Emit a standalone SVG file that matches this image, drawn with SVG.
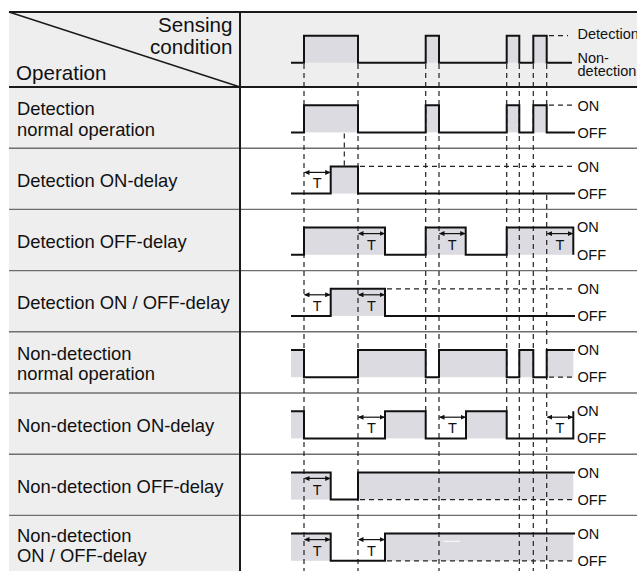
<svg xmlns="http://www.w3.org/2000/svg" width="637" height="571" viewBox="0 0 637 571">
<defs>
<marker id="ah" markerUnits="userSpaceOnUse" markerWidth="6" markerHeight="6" refX="5" refY="2.5" orient="auto-start-reverse">
<path d="M0,0 L5.5,2.5 L0,5 z" fill="#111"/>
</marker>
</defs>
<style>
.bg{fill:#eeeeee}
.pf{fill:#dcdbe2}
.sig{fill:none;stroke:#111;stroke-width:2;stroke-linejoin:miter}
.dh{fill:none;stroke:#222;stroke-width:1.2;stroke-dasharray:5 4}
.dv{fill:none;stroke:#222;stroke-width:1.2;stroke-dasharray:5 4}
.div{stroke:#6e6e6e;stroke-width:1.4}
.frame{stroke:#1a1a1a;stroke-width:2}
.arr{stroke:#111;stroke-width:1.2;marker-start:url(#ah);marker-end:url(#ah)}
.lbl{font-family:"Liberation Sans",Arial,sans-serif;font-size:18.4px;fill:#111}
.hdr{font-family:"Liberation Sans",Arial,sans-serif;font-size:20.6px;fill:#111}
.sm{font-family:"Liberation Sans",Arial,sans-serif;font-size:14.5px;fill:#111}
.t{font-family:"Liberation Sans",Arial,sans-serif;font-size:14.5px;fill:#111;text-anchor:middle}
</style>

<!-- table background -->
<g id="table">
<rect class="bg" x="9" y="12" width="231" height="559"/>
<rect class="bg" x="240" y="12" width="397" height="75"/>
<line class="div" x1="9" y1="148.2" x2="637" y2="148.2"/>
<line class="div" x1="9" y1="209.4" x2="637" y2="209.4"/>
<line class="div" x1="9" y1="270.6" x2="637" y2="270.6"/>
<line class="div" x1="9" y1="331.8" x2="637" y2="331.8"/>
<line class="div" x1="9" y1="393" x2="637" y2="393"/>
<line class="div" x1="9" y1="454.2" x2="637" y2="454.2"/>
<line class="div" x1="9" y1="515.4" x2="637" y2="515.4"/>
<line class="frame" x1="9" y1="12" x2="637" y2="12"/>
<line class="frame" x1="9" y1="87" x2="637" y2="87"/>
<line class="frame" x1="240" y1="12" x2="240" y2="571"/>
<line x1="9" y1="12" x2="240" y2="87" stroke="#1a1a1a" stroke-width="1.4"/>
</g>

<!-- fills under signals -->
<g id="fills">
<rect class="pf" x="304" y="35.7" width="54" height="27"/>
<rect class="pf" x="425.7" y="35.7" width="13.3" height="27"/>
<rect class="pf" x="506.7" y="35.7" width="12.6" height="27"/>
<rect class="pf" x="533.3" y="35.7" width="13.4" height="27"/>
<rect class="pf" x="304" y="105.2" width="54" height="27.2"/>
<rect class="pf" x="425.7" y="105.2" width="13.3" height="27.2"/>
<rect class="pf" x="506.7" y="105.2" width="12.6" height="27.2"/>
<rect class="pf" x="533.3" y="105.2" width="13.4" height="27.2"/>
<rect class="pf" x="330.7" y="166.4" width="27.3" height="27.2"/>
<rect class="pf" x="304" y="227.6" width="81" height="27.2"/>
<rect class="pf" x="425.7" y="227.6" width="40" height="27.2"/>
<rect class="pf" x="506.7" y="227.6" width="66.6" height="27.2"/>
<rect class="pf" x="330.7" y="288.8" width="54.3" height="27.2"/>
<rect class="pf" x="291" y="350" width="13" height="27.2"/>
<rect class="pf" x="358" y="350" width="67.7" height="27.2"/>
<rect class="pf" x="439" y="350" width="67.7" height="27.2"/>
<rect class="pf" x="519.3" y="350" width="14" height="27.2"/>
<rect class="pf" x="546.7" y="350" width="26.6" height="27.2"/>
<rect class="pf" x="291" y="411.2" width="13" height="27.2"/>
<rect class="pf" x="385" y="411.2" width="40.7" height="27.2"/>
<rect class="pf" x="466" y="411.2" width="40.7" height="27.2"/>
<rect class="pf" x="291" y="472.4" width="39.7" height="27.2"/>
<rect class="pf" x="358" y="472.4" width="215.3" height="27.2"/>
<rect class="pf" x="291" y="533.6" width="39.7" height="27.2"/>
<rect class="pf" x="385" y="533.6" width="188.3" height="27.2"/>
<line x1="443.3" y1="541.3" x2="460" y2="541.3" stroke="#ffffff" stroke-width="1"/>
</g>

<!-- connectors: dashed guides, delay arrows -->
<g id="connectors">
<line class="dv" x1="304" y1="64" x2="304" y2="571"/>
<line class="dv" x1="358" y1="64" x2="358" y2="571"/>
<line class="dv" x1="425.7" y1="64" x2="425.7" y2="411.2"/>
<line class="dv" x1="439" y1="64" x2="439" y2="571"/>
<line class="dv" x1="506.7" y1="64" x2="506.7" y2="411.2"/>
<line class="dv" x1="519.3" y1="64" x2="519.3" y2="571"/>
<line class="dv" x1="533.3" y1="64" x2="533.3" y2="571"/>
<line class="dv" x1="546.7" y1="64" x2="546.7" y2="105.2"/>
<line class="dv" x1="546.7" y1="195" x2="546.7" y2="571"/>
<line class="dv" x1="344.3" y1="133.5" x2="344.3" y2="166.4"/>
<line class="dh" x1="549" y1="35.7" x2="568" y2="35.7"/>
<line class="dh" x1="549" y1="105.2" x2="575" y2="105.2"/>
<line class="dh" x1="360" y1="166.4" x2="575" y2="166.4"/>
<line class="dh" x1="387" y1="288.8" x2="575" y2="288.8"/>
<line class="dh" x1="549" y1="377.2" x2="575" y2="377.2"/>
<line class="dh" x1="360" y1="499.6" x2="575" y2="499.6"/>
<line class="dh" x1="387" y1="560.8" x2="575" y2="560.8"/>

<line class="arr" x1="304.5" y1="172.4" x2="330.2" y2="172.4"/>
<line class="arr" x1="358.5" y1="233.6" x2="384.5" y2="233.6"/>
<line class="arr" x1="439.5" y1="233.6" x2="465.2" y2="233.6"/>
<line class="arr" x1="547.2" y1="233.6" x2="572.8" y2="233.6"/>
<line class="arr" x1="304.5" y1="294.8" x2="330.2" y2="294.8"/>
<line class="arr" x1="358.5" y1="294.8" x2="384.5" y2="294.8"/>
<line class="arr" x1="358.5" y1="417.2" x2="384.5" y2="417.2"/>
<line class="arr" x1="439.5" y1="417.2" x2="465.5" y2="417.2"/>
<line class="arr" x1="547.2" y1="417.2" x2="572.8" y2="417.2"/>
<line class="arr" x1="304.5" y1="478.4" x2="330.2" y2="478.4"/>
<line class="arr" x1="304.5" y1="539.6" x2="330.2" y2="539.6"/>
<line class="arr" x1="358.5" y1="539.6" x2="384.5" y2="539.6"/>
</g>

<!-- header node -->
<g id="header">
<text class="hdr" x="232.5" y="31.5" text-anchor="end">Sensing</text>
<text class="hdr" x="232.5" y="53.5" text-anchor="end">condition</text>
<text class="hdr" x="16" y="79.5">Operation</text>
<path class="sig" d="M291,62.7 H304 V35.7 H358 V62.7 H425.7 V35.7 H439 V62.7 H506.7 V35.7 H519.3 V62.7 H533.3 V35.7 H546.7 V62.7 H572"/>
<text class="sm" x="577.5" y="38.5">Detection</text>
<text class="sm" x="577.5" y="62.5">Non-</text>
<text class="sm" x="577.5" y="76">detection</text>
</g>

<g id="row1">
<text class="lbl" x="17" y="115">Detection</text>
<text class="lbl" x="17" y="135.5">normal operation</text>
<path class="sig" d="M291,132.4 H304 V105.2 H358 V132.4 H425.7 V105.2 H439 V132.4 H506.7 V105.2 H519.3 V132.4 H533.3 V105.2 H546.7 V132.4 H575"/>
<text class="sm" x="577.5" y="110.5">ON</text>
<text class="sm" x="577.5" y="137.5">OFF</text>
</g>

<g id="row2">
<text class="lbl" x="17" y="186.7">Detection ON-delay</text>
<path class="sig" d="M291,193.6 H330.7 V166.4 H358 V193.6 H575"/>
<text class="t" x="317.3" y="188.4">T</text>
<text class="sm" x="577.5" y="171.5">ON</text>
<text class="sm" x="577.5" y="198.7">OFF</text>
</g>

<g id="row3">
<text class="lbl" x="17" y="247.9">Detection OFF-delay</text>
<path class="sig" d="M291,254.8 H304 V227.6 H385 V254.8 H425.7 V227.6 H465.7 V254.8 H506.7 V227.6 H573.3 V254.8"/>
<text class="t" x="371.5" y="249.6">T</text>
<text class="t" x="452.3" y="249.6">T</text>
<text class="t" x="560" y="249.6">T</text>
<text class="sm" x="577" y="232.3">ON</text>
<text class="sm" x="577" y="259.5">OFF</text>
</g>

<g id="row4">
<text class="lbl" x="17" y="309.1">Detection ON / OFF-delay</text>
<path class="sig" d="M291,316 H330.7 V288.8 H385 V316 H575"/>
<text class="t" x="317.3" y="310.8">T</text>
<text class="t" x="371.5" y="310.8">T</text>
<text class="sm" x="577.5" y="293.9">ON</text>
<text class="sm" x="577.5" y="321.1">OFF</text>
</g>

<g id="row5">
<text class="lbl" x="17" y="360">Non-detection</text>
<text class="lbl" x="17" y="380">normal operation</text>
<path class="sig" d="M291,350 H304 V377.2 H358 V350 H425.7 V377.2 H439 V350 H506.7 V377.2 H519.3 V350 H533.3 V377.2 H546.7 V350 H575"/>
<text class="sm" x="577.5" y="355.1">ON</text>
<text class="sm" x="577.5" y="382.3">OFF</text>
</g>

<g id="row6">
<text class="lbl" x="17" y="431.5">Non-detection ON-delay</text>
<path class="sig" d="M291,411.2 H304 V438.4 H385 V411.2 H425.7 V438.4 H466 V411.2 H506.7 V438.4 H573.3 V411.2"/>
<text class="t" x="371.5" y="433.2">T</text>
<text class="t" x="452.5" y="433.2">T</text>
<text class="t" x="560" y="433.2">T</text>
<text class="sm" x="577" y="415.8">ON</text>
<text class="sm" x="577" y="443">OFF</text>
</g>

<g id="row7">
<text class="lbl" x="17" y="492.7">Non-detection OFF-delay</text>
<path class="sig" d="M291,472.4 H330.7 V499.6 H358 V472.4 H575"/>
<text class="t" x="317.3" y="494.8">T</text>
<text class="sm" x="577.5" y="477.5">ON</text>
<text class="sm" x="577.5" y="504.7">OFF</text>
</g>

<g id="row8">
<text class="lbl" x="17" y="541.7">Non-detection</text>
<text class="lbl" x="17" y="561.7">ON / OFF-delay</text>
<path class="sig" d="M291,533.6 H330.7 V560.8 H385 V533.6 H575"/>
<text class="t" x="317.3" y="556.2">T</text>
<text class="t" x="371.5" y="556.2">T</text>
<text class="sm" x="577.5" y="538.7">ON</text>
<text class="sm" x="577.5" y="566">OFF</text>
</g>
</svg>
